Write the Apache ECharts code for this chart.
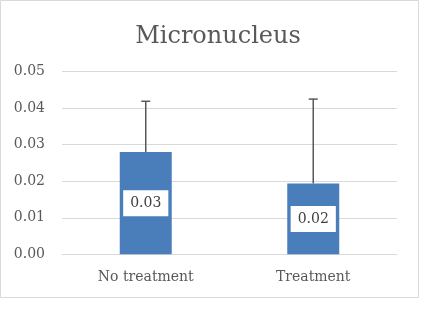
<!DOCTYPE html>
<html>
<head>
<meta charset="utf-8">
<script src="https://cdn.jsdelivr.net/npm/echarts@6/dist/echarts.min.js"></script>
<style>
  html, body { margin: 0; padding: 0; background: #fff; }
  #chart { width: 447px; height: 310px; }
</style>
</head>
<body>
<div id="chart"></div>
<script>
const categories = ['No treatment', 'Treatment']
const means = [0.028, 0.0194]
const upperErr = [0.0419, 0.0425]
const yTicks = [0, 0.01, 0.02, 0.03, 0.04, 0.05]

const font = '"DejaVu Serif", serif'
const grey = '#595959'

const chart = echarts.init(document.getElementById('chart'))

const errData = categories.map((c, i) => [i, means[i], upperErr[i]])

chart.setOption({
  animation: false,
  title: {
    text: 'Micronucleus',
    left: 213,
    textAlign: 'center',
    top: 20,
    textStyle: { fontFamily: font, fontSize: 24, fontWeight: 'normal', color: grey }
  },
  graphic: [{
    type: 'rect',
    shape: { x: 0.5, y: 0.5, width: 418, height: 297 },
    style: { fill: 'none', stroke: '#d9d9d9', lineWidth: 1 },
    z: -1
  }],
  grid: { left: 62, right: 50, top: 71.7, bottom: 55.7 },
  xAxis: {
    type: 'category',
    data: categories,
    axisLine: { lineStyle: { color: '#d9d9d9' } },
    axisTick: { show: false },
    axisLabel: { fontFamily: font, fontSize: 14, color: grey, margin: 16 }
  },
  yAxis: {
    type: 'value',
    min: yTicks[0],
    max: yTicks[yTicks.length - 1],
    interval: 0.01,
    axisLine: { show: false },
    axisTick: { show: false },
    splitLine: { lineStyle: { color: '#d9d9d9' } },
    axisLabel: {
      fontFamily: font, fontSize: 14, color: grey, margin: 17,
      formatter: v => v.toFixed(2)
    }
  },
  series: [
    {
      type: 'bar',
      data: means,
      barWidth: 52,
      itemStyle: { color: '#4a7ebb' },
      label: {
        show: true,
        position: 'inside',
        formatter: p => p.value.toFixed(2),
        fontFamily: font,
        fontSize: 14,
        color: '#404040',
        backgroundColor: '#fff',
        padding: [6, 7, 6, 7]
      },
      z: 2
    },
    {
      type: 'custom',
      data: errData,
      z: 1,
      renderItem: (params, api) => {
        const x = api.value(0)
        const base = api.coord([x, api.value(1)])
        const top = api.coord([x, api.value(2)])
        const cap = 4.5
        return {
          type: 'group',
          children: [
            { type: 'line', shape: { x1: base[0], y1: base[1], x2: top[0], y2: top[1] },
              style: { stroke: grey, lineWidth: 1.5 } },
            { type: 'line', shape: { x1: top[0] - cap, y1: top[1], x2: top[0] + cap, y2: top[1] },
              style: { stroke: grey, lineWidth: 1.5 } }
          ]
        }
      }
    }
  ]
})
</script>
</body>
</html>
